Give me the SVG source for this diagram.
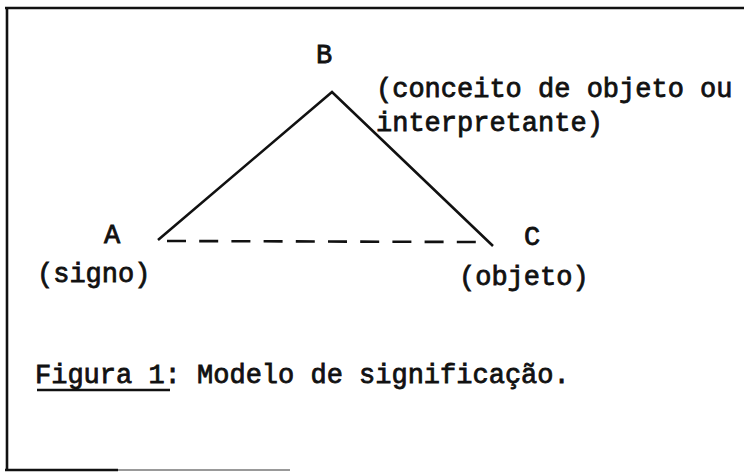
<svg xmlns="http://www.w3.org/2000/svg" width="744" height="472" viewBox="0 0 744 472">
<style>
.t{font-family:"Liberation Mono","Courier New",monospace;font-size:27px;font-weight:normal;fill:#111;stroke:#111;stroke-width:0.8}
.ln{stroke:#111;stroke-width:2.6;fill:none;stroke-linecap:butt}
</style>
<rect width="744" height="472" fill="#fff"/>
<g id="frame">
<line class="ln" x1="5" y1="8" x2="744" y2="8"/>
<line class="ln" x1="7" y1="8" x2="7" y2="470"/>
<line class="ln" x1="5" y1="470" x2="118" y2="470"/>
<line x1="118" y1="470" x2="290" y2="470" stroke="#999" stroke-width="2"/>
</g>
<g id="connectors">
<polyline class="ln" points="158,240 332,92 493,246"/>
<line class="ln" x1="167" y1="241" x2="477" y2="242" stroke-dasharray="19 13.2"/>
</g>
<g id="node-B">
<text class="t" x="324" y="63" text-anchor="middle">B</text>
<text class="t" x="376" y="97">(conceito de objeto ou</text>
<text class="t" x="376" y="131">interpretante)</text>
</g>
<g id="node-A">
<text class="t" x="112" y="243" text-anchor="middle">A</text>
<text class="t" x="37" y="282">(signo)</text>
</g>
<g id="node-C">
<text class="t" x="532" y="245" text-anchor="middle">C</text>
<text class="t" x="459" y="285">(objeto)</text>
</g>
<g id="caption">
<text class="t" x="35" y="383">Figura 1: Modelo de significação.</text>
<line class="ln" x1="37" y1="390" x2="170" y2="390"/>
</g>
</svg>
